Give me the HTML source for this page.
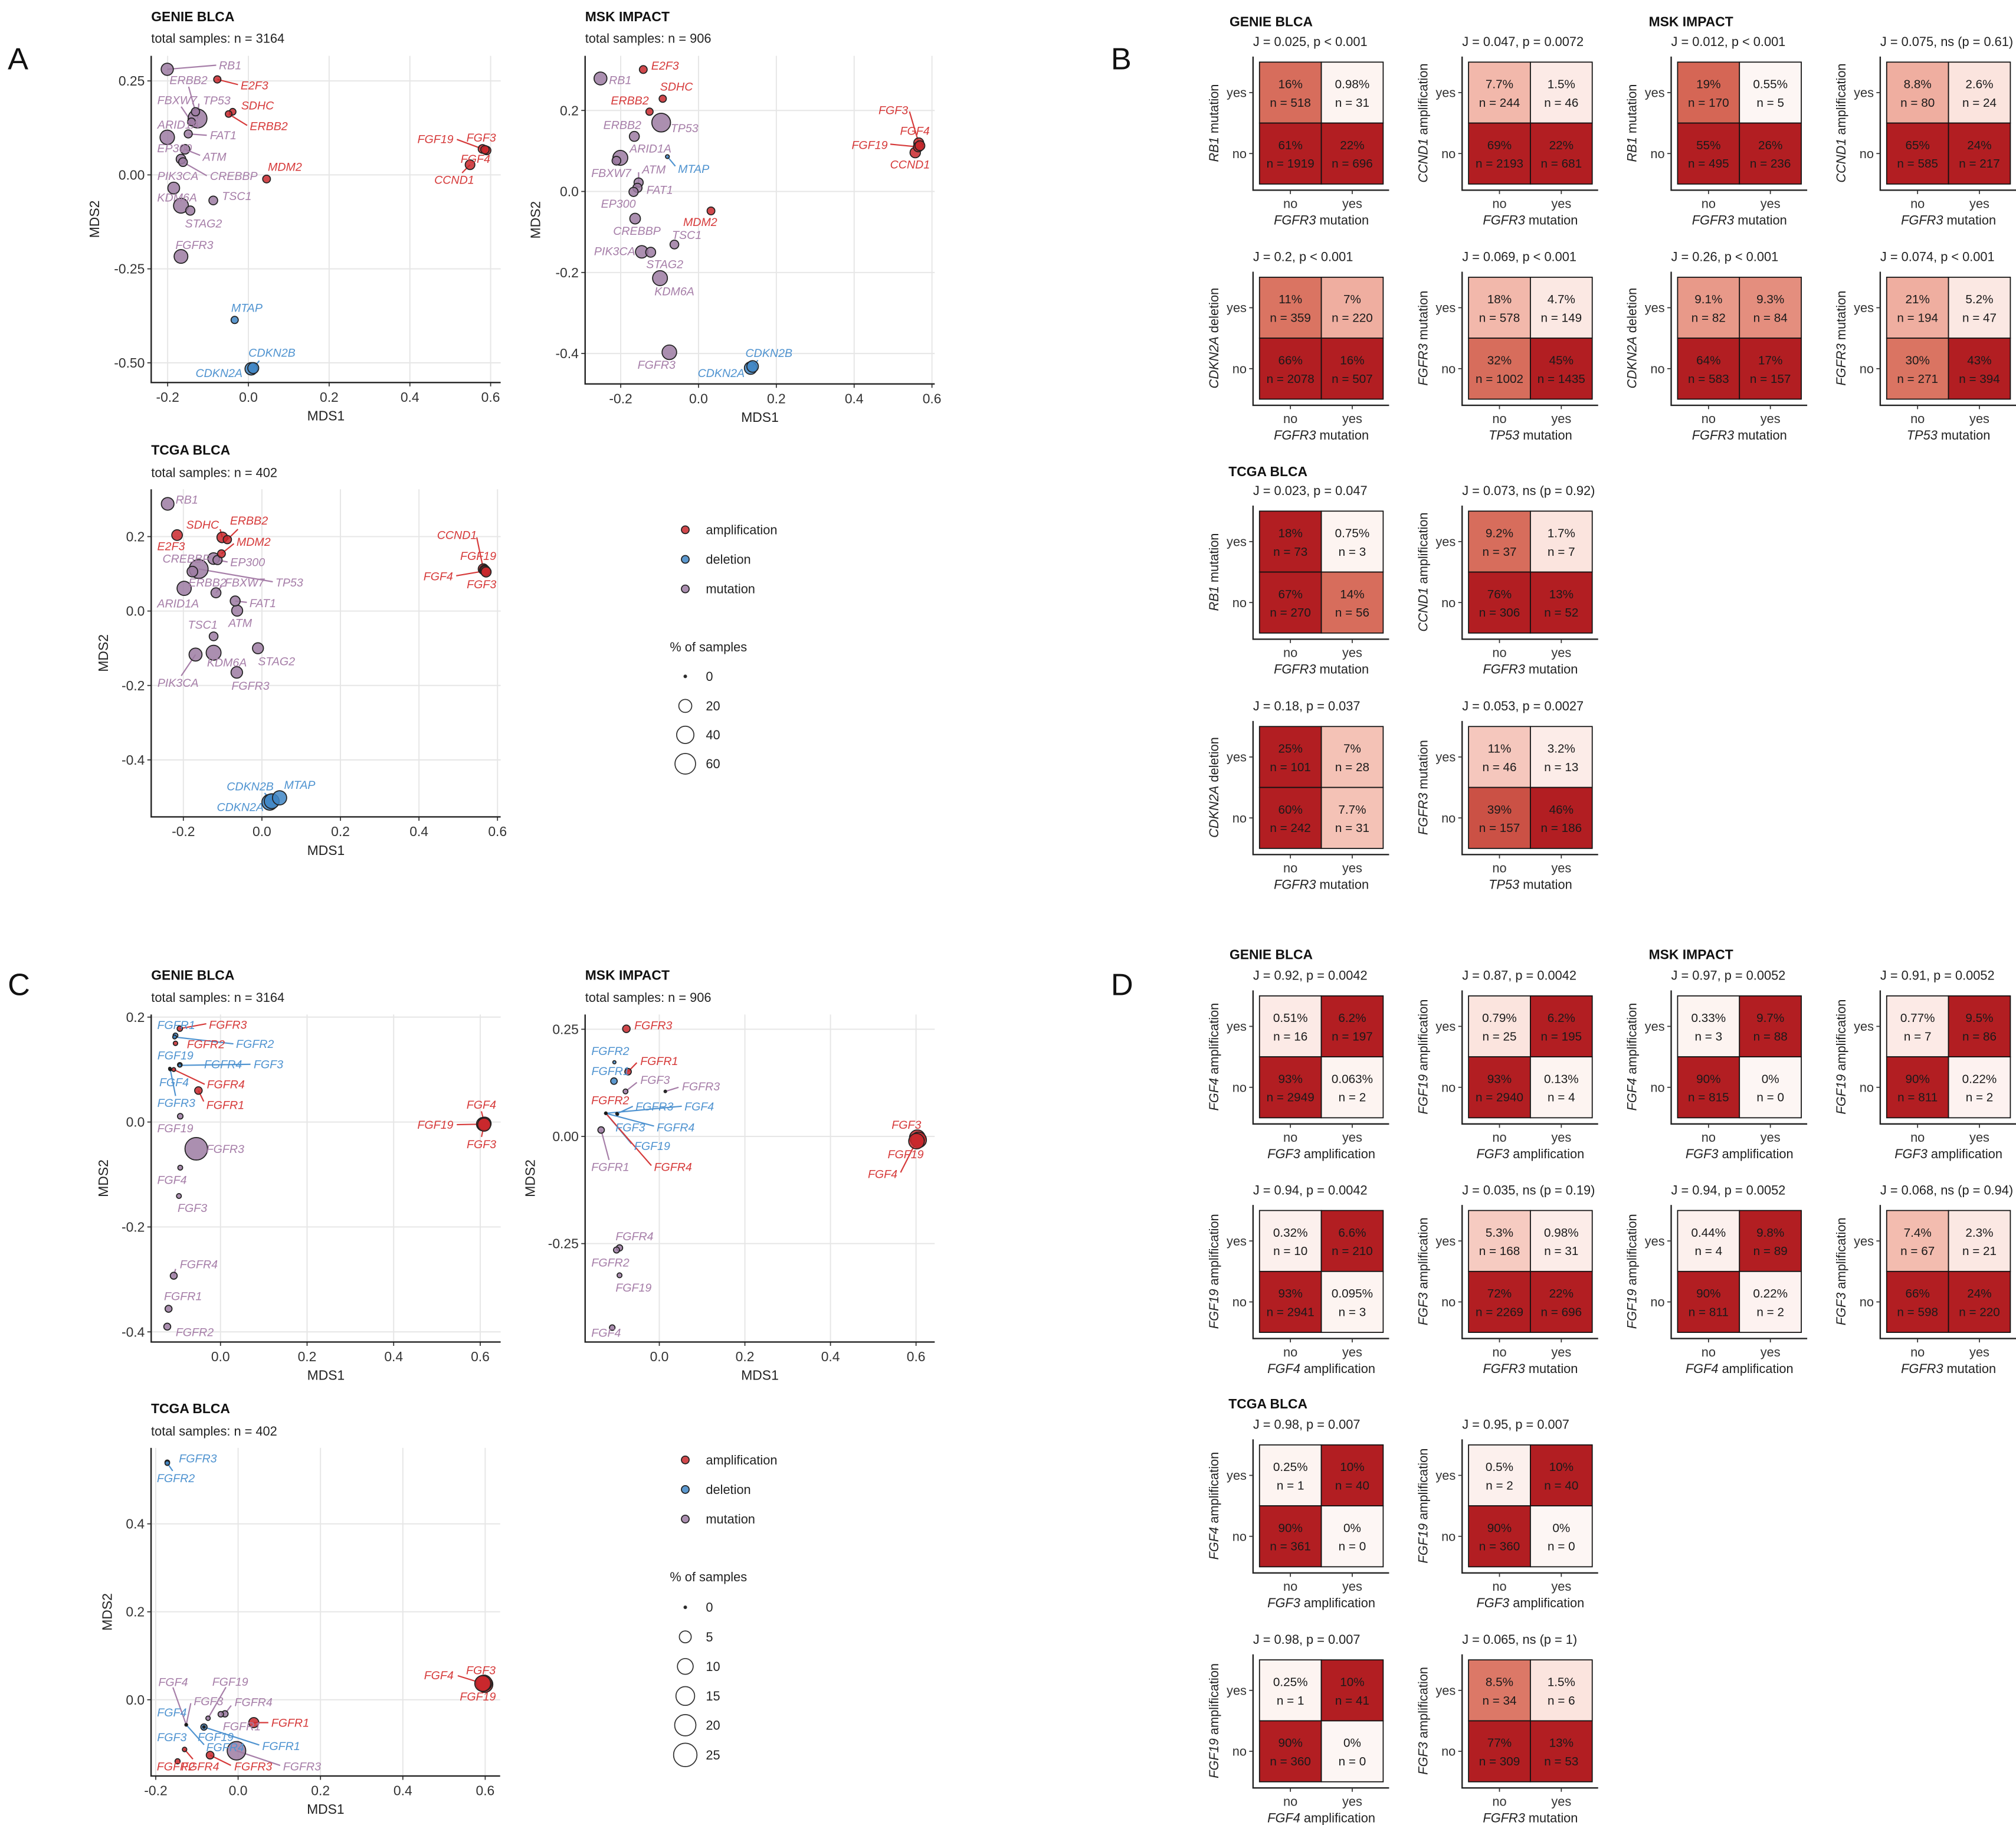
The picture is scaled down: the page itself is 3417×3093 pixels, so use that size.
<!DOCTYPE html>
<html><head><meta charset="utf-8">
<style>
html,body{margin:0;padding:0;background:#fff}
svg{display:block}
text{font-family:"Liberation Sans",Arial,sans-serif}
</style></head>
<body>
<svg id="fig" xmlns="http://www.w3.org/2000/svg" width="3417" height="3093" viewBox="0 0 1568 1419.3">
<rect x="0" y="0" width="1568" height="1419.3" fill="#fff"/>
<text x="6" y="54" font-size="24" fill="#111">A</text>
<text x="864" y="54" font-size="24" fill="#111">B</text>
<text x="6" y="774" font-size="24" fill="#111">C</text>
<text x="864" y="774" font-size="24" fill="#111">D</text>
</svg>
<script>
const NS='http://www.w3.org/2000/svg';
const svg=document.getElementById('fig');
function mk(tag,attrs,parent){const e=document.createElementNS(NS,tag);for(const k in attrs)e.setAttribute(k,attrs[k]);(parent||svg).appendChild(e);return e;}

/* ================= SCATTER DATA ================= */
/* A - GENIE */
const gaGenes=['RB1','TP53','ERBB2','FBXW7','ARID1A','FAT1','EP300','ATM','CREBBP','PIK3CA','KDM6A','STAG2','TSC1','FGFR3','E2F3','SDHC','ERBB2','MDM2','FGF19','FGF3','FGF4','CCND1','MTAP','CDKN2B','CDKN2A'];
const gaKinds=['m','m','m','m','m','m','m','m','m','m','m','m','m','m','a','a','a','a','a','a','a','a','d','d','d'];
const gaMds1=[-0.201,-0.126,-0.131,-0.141,-0.201,-0.149,-0.167,-0.157,-0.162,-0.185,-0.167,-0.144,-0.087,-0.167,-0.077,-0.039,-0.049,0.045,0.580,0.586,0.590,0.549,-0.034,0.012,0.007];
const gaMds2=[0.281,0.150,0.168,0.141,0.100,0.109,0.042,0.068,0.034,-0.035,-0.082,-0.095,-0.068,-0.217,0.254,0.168,0.162,-0.011,0.069,0.067,0.065,0.027,-0.386,-0.514,-0.516];
const gaPct=[17,49,6,5,26,5.5,9,9,7,15.7,28,8,7,23,4,3,3,5,6.9,6.3,6.7,9.2,4,13,18];
/* A - MSK */
const maGenes=['RB1','E2F3','SDHC','ERBB2','TP53','ERBB2','ARID1A','FBXW7','MTAP','ATM','FAT1','EP300','CREBBP','MDM2','TSC1','PIK3CA','STAG2','KDM6A','FGFR3','CDKN2B','CDKN2A','FGF3','FGF4','FGF19','CCND1'];
const maKinds=['m','a','a','a','m','m','m','m','d','m','m','m','m','a','m','m','m','m','m','d','d','a','a','a','a'];
const maMds1=[-0.252,-0.142,-0.092,-0.126,-0.096,-0.165,-0.201,-0.211,-0.080,-0.154,-0.157,-0.167,-0.163,0.032,-0.062,-0.146,-0.123,-0.099,-0.075,0.139,0.134,0.566,0.569,0.565,0.557];
const maMds2=[0.279,0.301,0.229,0.197,0.170,0.136,0.083,0.076,0.086,0.022,0.009,-0.001,-0.067,-0.048,-0.131,-0.149,-0.150,-0.214,-0.397,-0.432,-0.436,0.120,0.113,0.110,0.096];
const maPct=[19.5,5,4,4,48,10,28,7,0.3,8,8,8,12,5,7,18,10,28,26.6,15,18.4,10,9.7,9.8,11.4];
/* A - TCGA */
const taGenes=['RB1','E2F3','SDHC','ERBB2','MDM2','CREBBP','EP300','TP53','ERBB2','FBXW7','ARID1A','FAT1','ATM','TSC1','PIK3CA','KDM6A','STAG2','FGFR3','CCND1','FGF19','FGF4','FGF3','MTAP','CDKN2B','CDKN2A'];
const taKinds=['m','a','a','a','a','m','m','m','m','m','m','m','m','m','m','m','m','m','a','a','a','a','d','d','d'];
const taMds1=[-0.240,-0.216,-0.101,-0.088,-0.103,-0.123,-0.113,-0.161,-0.177,-0.117,-0.198,-0.068,-0.063,-0.123,-0.169,-0.123,-0.010,-0.064,0.564,0.567,0.569,0.571,0.045,0.025,0.020];
const taMds2=[0.288,0.204,0.198,0.192,0.154,0.141,0.137,0.113,0.106,0.049,0.061,0.027,0.001,-0.068,-0.117,-0.112,-0.100,-0.165,0.113,0.110,0.108,0.105,-0.502,-0.511,-0.514];
const taPct=[18.75,12,12,6,5,15,8,49,12,10,25,10,13,7,20,28,13,14.75,10.9,10.5,10.2,10.2,25,28,32];
/* C - GENIE */
const gcGenes=['FGFR3','FGFR1','FGFR2','FGFR2','FGF19','FGFR4','FGF3','FGF4','FGFR3','FGFR4','FGFR1','FGF4','FGF19','FGF3','FGF19','FGFR3','FGF4','FGF3','FGFR4','FGFR1','FGFR2'];
const gcKinds=['a','d','a','d','d','d','d','d','d','a','a','a','a','a','m','m','m','m','m','m','m'];
const gcMds1=[-0.094,-0.104,-0.104,-0.106,-0.117,-0.094,-0.094,-0.117,-0.116,-0.108,-0.051,0.610,0.607,0.609,-0.093,-0.056,-0.093,-0.096,-0.108,-0.120,-0.123];
const gcMds2=[0.178,0.165,0.150,0.162,0.102,0.109,0.108,0.101,0.100,0.100,0.060,-0.003,-0.004,-0.005,0.011,-0.051,-0.087,-0.141,-0.293,-0.356,-0.390];
const gcPct=[0.46,0.3,0.2,0.1,0,0.25,0.05,0,0,0.1,1.4,6.3,6.9,6.3,0.5,23,0.3,0.3,1.1,1.1,1.1];
/* C - MSK */
const mcGenes=['FGFR3','FGFR2','FGFR1','FGFR1','FGF3','FGFR3','FGFR2','FGFR3','FGF4','FGF3','FGFR4','FGF19','FGFR4','FGFR1','FGF3','FGF19','FGF4','FGFR4','FGFR2','FGF19','FGF4'];
const mcKinds=['a','d','a','d','m','m','a','d','d','d','d','d','a','m','a','a','a','m','m','m','m'];
const mcMds1=[-0.077,-0.105,-0.073,-0.106,-0.079,0.014,-0.125,-0.099,-0.125,-0.098,-0.125,-0.125,-0.125,-0.136,0.603,0.606,0.601,-0.093,-0.100,-0.093,-0.110];
const mcMds2=[0.251,0.173,0.151,0.129,0.105,0.105,0.054,0.053,0.054,0.052,0.054,0.054,0.054,0.015,-0.003,-0.008,-0.011,-0.260,-0.265,-0.324,-0.446];
const mcPct=[1.4,0.02,0.9,0.9,0.3,0,0,0,0,0,0,0,0,0.9,9.8,9.8,9.7,0.8,0.7,0.3,0.5];
/* C - TCGA */
const tcGenes=['FGFR3','FGFR2','FGF3','FGF4','FGF19','FGFR1','FGFR3','FGFR4','FGFR2','FGFR3','FGFR4','FGF19','FGF3','FGF4','FGFR1','FGF19','FGF4','FGF3','FGFR1','FGFR4'];
const tcKinds=['d','d','a','a','a','a','a','a','a','m','m','m','m','m','m','d','d','d','d','d'];
const tcMds1=[-0.172,-0.172,0.597,0.594,0.599,0.038,-0.068,-0.130,-0.147,-0.004,-0.032,-0.073,-0.126,-0.126,-0.042,-0.083,-0.126,-0.126,-0.083,-0.126];
const tcMds2=[0.540,0.538,0.038,0.037,0.035,-0.052,-0.126,-0.113,-0.140,-0.116,-0.032,-0.042,-0.057,-0.057,-0.033,-0.062,-0.057,-0.057,-0.062,-0.057];
const tcPct=[0.25,0.25,10.2,10.2,10.5,3.2,1.5,0.2,0.4,14.7,0.8,0.2,0,0,0.5,0.8,0,0,0,0];

/* legend breaks */
const legendKinds=['amplification','deletion','mutation'];
const sizeBreaksA=[0,20,40,60];
const sizeBreaksC=[0,5,10,15,20,25];

/* ================= LAYOUT (label offsets in zoom units, not data) ================= */
const gaLab=[[195,-15,185,-15],[20,-67,5,-55],[-98,-117,-26,-92],[-129,-80,-39,-56],[-37,-47],[82,5,70,5],[-90,-40],[67,27,57,22],[102,50,90,50],[-62,-45],[-90,-30],[-20,47],[33,-17],[-21,-42],[88,21,78,19],[32,-23],[80,44,70,42],[5,-45],[-110,-37,-97,-35,'end'],[-70,-45],[-98,30],[-135,55,-30,30],[-13,-45],[-18,-57,23,-27],[-33,15,null,null,'end']];
const maLab=[[32,5],[30,-15],[-10,-45],[-146,-42],[36,20],[-117,-42],[35,-35],[-95,45],[40,45,30,35],[13,-48,0,-38],[34,7],[-123,43],[-83,45],[-105,40],[-9,-36],[-180,-3],[-17,43],[-21,48],[-120,45],[-27,-50,20,-23],[-200,18],[-152,-120,-35,-115],[-75,-55],[-116,-8,-106,-10,'end'],[-95,43]];
const taLab=[[30,-16],[-75,40],[-136,-47,-8,-30],[10,-70,40,-38],[57,-44,47,-37],[-193,0],[48,7,38,7],[290,49,280,47],[-15,40],[33,-38,20,-23],[-102,55],[54,7,44,5],[-33,45],[-97,-43],[-144,103,-54,78],[-25,35],[0,47],[-20,48],[-175,-125,-25,-116],[-92,-52],[-122,20,-110,18,'end'],[-73,45],[17,-48],[-170,-55,-27,-30],[-200,17]];
const gcLab=[[110,-15,100,-18],[-69,-39],[43,3],[232,25,222,25],[-47,-48],[92,-2],[279,-4,267,-4],[-40,48],[-49,122,20,97],[125,54,117,54],[30,53,20,40],[-68,-70,-12,-45],[-113,2,-100,2,'end'],[-66,72,-10,45],[-87,44],[38,0],[-87,45],[-5,43],[23,-42,7,-25],[-17,-47],[32,20]];
const mcLab=[[30,-13],[-87,-42],[46,-40,33,-33],[-85,-37],[56,-43,43,-33],[63,-19,50,-15],[-55,-48],[70,-27,60,-27],[297,-25,287,-26],[-7,48],[192,52,182,47],[107,120,97,112],[182,197,172,192],[-37,135,30,110],[-97,-48],[-117,53],[-72,120,-60,115,'end'],[-15,-43],[-95,45],[-15,45],[-79,18]];
const tcLab=[[28,-14],[-25,54,13,28],[-43,-47],[-70,-30,-60,-28,'end'],[-60,43],[42,0,35,0],[58,40,50,37],[-8,61,20,35],[-50,18],[112,56,105,53],[23,-43,15,-30],[10,-132,43,-112],[18,-86,11,-78],[-67,-155,-32,-135],[5,43],[-15,35],[-70,-45],[-70,44],[140,68,133,65],[48,80,43,72]];

const fillCol={a:'#c9282d',d:'#3f86c6',m:'#9c7ba2'};
const labCol={a:'#d63a3a',d:'#4f93d0',m:'#a67ea8'};
function sizeA(p){return p<=0?1:1+0.904*Math.sqrt(p);}
function sizeC(p){return p<=0?1:1+1.62*Math.sqrt(p);}

const panels=[
 {id:'genie-a',title:'GENIE BLCA',sub:'total samples: n = 3164',left:117.6,right:389.4,top:43.4,bottom:297.5,x0:193.2,xs:314,y0:136,ys:292.3,xt:[-0.2,0,0.2,0.4,0.6],xl:['-0.2','0.0','0.2','0.4','0.6'],yt:[0.25,0,-0.25,-0.5],yl:['0.25','0.00','-0.25','-0.50'],ty:16.5,sy:33.2,ytx:77,zf:[4.857,4.722],d:[gaGenes,gaKinds,gaMds1,gaMds2,gaPct,gaLab],size:sizeA},
 {id:'msk-a',title:'MSK IMPACT',sub:'total samples: n = 906',left:455.1,right:727,top:43.4,bottom:298.6,x0:543.3,xs:302.6,y0:148.9,ys:315,xt:[-0.2,0,0.2,0.4,0.6],xl:['-0.2','0.0','0.2','0.4','0.6'],yt:[0.2,0,-0.2,-0.4],yl:['0.2','0.0','-0.2','-0.4'],ty:16.5,sy:33.2,ytx:420,zf:[4.857,4.722],d:[maGenes,maKinds,maMds1,maMds2,maPct,maLab],size:sizeA},
 {id:'tcga-a',title:'TCGA BLCA',sub:'total samples: n = 402',left:117.6,right:389.4,top:380.5,bottom:635.3,x0:203.7,xs:305.4,y0:475.2,ys:289.4,xt:[-0.2,0,0.2,0.4,0.6],xl:['-0.2','0.0','0.2','0.4','0.6'],yt:[0.2,0,-0.2,-0.4],yl:['0.2','0.0','-0.2','-0.4'],ty:353.5,sy:371,ytx:84,zf:[4.857,4.722],d:[taGenes,taKinds,taMds1,taMds2,taPct,taLab],size:sizeA},
 {id:'genie-c',title:'GENIE BLCA',sub:'total samples: n = 3164',left:117.6,right:389.4,top:789,bottom:1043.7,x0:171.5,xs:336.7,y0:872.6,ys:408,xt:[0,0.2,0.4,0.6],xl:['0.0','0.2','0.4','0.6'],yt:[0.2,0,-0.2,-0.4],yl:['0.2','0.0','-0.2','-0.4'],ty:762,sy:779.2,ytx:84,zf:[4.857,4.722],d:[gcGenes,gcKinds,gcMds1,gcMds2,gcPct,gcLab],size:sizeC},
 {id:'msk-c',title:'MSK IMPACT',sub:'total samples: n = 906',left:455.1,right:727,top:789,bottom:1043.7,x0:512.8,xs:332.8,y0:883.8,ys:333.4,xt:[0,0.2,0.4,0.6],xl:['0.0','0.2','0.4','0.6'],yt:[0.25,0,-0.25],yl:['0.25','0.00','-0.25'],ty:762,sy:779.2,ytx:416,zf:[4.857,4.722],d:[mcGenes,mcKinds,mcMds1,mcMds2,mcPct,mcLab],size:sizeC},
 {id:'tcga-c',title:'TCGA BLCA',sub:'total samples: n = 402',left:117.5,right:389,top:1126,bottom:1381.2,x0:185.2,xs:320.3,y0:1321.9,ys:342,xt:[-0.2,0,0.2,0.4,0.6],xl:['-0.2','0.0','0.2','0.4','0.6'],yt:[0.4,0.2,0],yl:['0.4','0.2','0.0'],ty:1099,sy:1116.5,ytx:87,zf:[3.09,4.638],d:[tcGenes,tcKinds,tcMds1,tcMds2,tcPct,tcLab],size:sizeC}
];

function drawScatter(P){
 const g=mk('g',{});
 
 
 const sx=v=>P.x0+P.xs*v, sy=v=>P.y0-P.ys*v;
 const t1=mk('text',{x:P.left,y:P.ty,'font-size':10.5,'font-weight':'bold',fill:'#111'},g);t1.textContent=P.title;
 
 
 const t2=mk('text',{x:P.left,y:P.sy,'font-size':10,fill:'#222'},g);t2.textContent=P.sub;
 
 
 P.xt.forEach((t,i)=>{
  const l=mk('line',{x1:sx(t),x2:sx(t),y1:P.top,y2:P.bottom,stroke:'#e6e6e6','stroke-width':0.9},g);
  
  
  const tk=mk('line',{x1:sx(t),x2:sx(t),y1:P.bottom,y2:P.bottom+3,stroke:'#333','stroke-width':0.8},g);
  
  
  const tl=mk('text',{x:sx(t),y:P.bottom+15,'font-size':10.5,fill:'#333','text-anchor':'middle'},g);tl.textContent=P.xl[i];
  
  
 });
 P.yt.forEach((t,i)=>{
  const l=mk('line',{x1:P.left,x2:P.right,y1:sy(t),y2:sy(t),stroke:'#e6e6e6','stroke-width':0.9},g);
  
  
  const tk=mk('line',{x1:P.left-3,x2:P.left,y1:sy(t),y2:sy(t),stroke:'#333','stroke-width':0.8},g);
  
  
  const tl=mk('text',{x:P.left-5,y:sy(t)+3.7,'font-size':10.5,fill:'#333','text-anchor':'end'},g);tl.textContent=P.yl[i];
  
  
 });
 const ax=mk('path',{d:`M${P.left},${P.top} V${P.bottom} H${P.right}`,fill:'none',stroke:'#222','stroke-width':1.1},g);
 
 
 const xt=mk('text',{x:(P.left+P.right)/2,y:P.bottom+29.5,'font-size':10.5,fill:'#222','text-anchor':'middle'},g);xt.textContent='MDS1';
 
 
 const ym=(P.top+P.bottom)/2;
 const yt=mk('text',{x:P.ytx,y:ym,'font-size':10.5,fill:'#222','text-anchor':'middle',transform:`rotate(-90 ${P.ytx} ${ym})`},g);yt.textContent='MDS2';
 
 
 const [genes,kinds,xs,ys,pct,labs]=P.d;
 // segments
 genes.forEach((gname,i)=>{
  const L=labs[i]; if(L.length<4||L[2]===null) return;
  const px=sx(xs[i]),py=sy(ys[i]);
  const s=mk('line',{x1:px,y1:py,x2:px+L[2]/P.zf[0],y2:py+L[3]/P.zf[1],stroke:labCol[kinds[i]],'stroke-width':1},g);
  
  
 });
 // points
 const order=genes.map((_,i)=>i).sort((a,b)=>pct[b]-pct[a]);
 order.forEach(i=>{
  const r=P.size(pct[i]);
  const c=mk('circle',{cx:sx(xs[i]),cy:sy(ys[i]),r:r,fill:pct[i]<=0?'#111':fillCol[kinds[i]],'fill-opacity':0.85,stroke:'#222','stroke-width':0.8},g);
  
  
 });
 // labels
 genes.forEach((gname,i)=>{
  const L=labs[i];
  const px=sx(xs[i]),py=sy(ys[i]);
  const anc=L[4]==='end'?'end':'start';
  const t=mk('text',{x:px+L[0]/P.zf[0],y:py+L[1]/P.zf[1]+3.2,'font-size':9,'font-style':'italic',fill:labCol[kinds[i]],'text-anchor':anc},g);
  t.textContent=gname;
  
  
 });
}
panels.forEach(drawScatter);

function drawLegend(top,breaks,sizeFn,pos){
 const g=mk('g',{});
 
 
 const kk=['a','d','m'];
 legendKinds.forEach((k,i)=>{
  const c=mk('circle',{cx:533,cy:top+i*23,r:3,fill:fillCol[kk[i]],'fill-opacity':0.85,stroke:'#222','stroke-width':0.8},g);
  
  
  const t=mk('text',{x:549,y:top+i*23+3.5,'font-size':10,fill:'#222'},g);t.textContent=k;
  
  
 });
 const h=mk('text',{x:521,y:top+91+3.5,'font-size':10,fill:'#222'},g);h.textContent='% of samples';
 
 
 breaks.forEach((b,i)=>{
  const y=pos[i];
  const c=mk('circle',{cx:533,cy:y,r:sizeFn(b),fill:b<=0?'#222':'none',stroke:'#333','stroke-width':0.8},g);
  
  
  const t=mk('text',{x:549,y:y+3.5,'font-size':10,fill:'#222'},g);t.textContent=String(b);
  
  
 });
}
drawLegend(412,sizeBreaksA,sizeA,[526,549,571.5,594]);
drawLegend(1135.4,sizeBreaksC,sizeC,[1250,1273,1296,1319,1341.7,1364.8]);

/* ================= HEATMAP DATA ================= */
const hmJ=['J = 0.025, p < 0.001','J = 0.047, p = 0.0072','J = 0.012, p < 0.001','J = 0.075, ns (p = 0.61)',
 'J = 0.2, p < 0.001','J = 0.069, p < 0.001','J = 0.26, p < 0.001','J = 0.074, p < 0.001',
 'J = 0.023, p = 0.047','J = 0.073, ns (p = 0.92)','J = 0.18, p = 0.037','J = 0.053, p = 0.0027',
 'J = 0.92, p = 0.0042','J = 0.87, p = 0.0042','J = 0.97, p = 0.0052','J = 0.91, p = 0.0052',
 'J = 0.94, p = 0.0042','J = 0.035, ns (p = 0.19)','J = 0.94, p = 0.0052','J = 0.068, ns (p = 0.94)',
 'J = 0.98, p = 0.007','J = 0.95, p = 0.007','J = 0.98, p = 0.007','J = 0.065, ns (p = 1)'];
const hmYGene=['RB1','CCND1','RB1','CCND1','CDKN2A','FGFR3','CDKN2A','FGFR3','RB1','CCND1','CDKN2A','FGFR3','FGF4','FGF19','FGF4','FGF19','FGF19','FGF3','FGF19','FGF3','FGF4','FGF19','FGF19','FGF3'];
const hmYType=['mutation','amplification','mutation','amplification','deletion','mutation','deletion','mutation','mutation','amplification','deletion','mutation','amplification','amplification','amplification','amplification','amplification','amplification','amplification','amplification','amplification','amplification','amplification','amplification'];
const hmXGene=['FGFR3','FGFR3','FGFR3','FGFR3','FGFR3','TP53','FGFR3','TP53','FGFR3','FGFR3','FGFR3','TP53','FGF3','FGF3','FGF3','FGF3','FGF4','FGFR3','FGF4','FGFR3','FGF3','FGF3','FGF4','FGFR3'];
const hmXType=['mutation','mutation','mutation','mutation','mutation','mutation','mutation','mutation','mutation','mutation','mutation','mutation','amplification','amplification','amplification','amplification','amplification','mutation','amplification','mutation','amplification','amplification','amplification','mutation'];
/* cell order: [y=yes/x=no, y=yes/x=yes, y=no/x=no, y=no/x=yes] */
const hmPct=[[16,0.98,61,22],[7.7,1.5,69,22],[19,0.55,55,26],[8.8,2.6,65,24],
 [11,7,66,16],[18,4.7,32,45],[9.1,9.3,64,17],[21,5.2,30,43],
 [18,0.75,67,14],[9.2,1.7,76,13],[25,7,60,7.7],[11,3.2,39,46],
 [0.51,6.2,93,0.063],[0.79,6.2,93,0.13],[0.33,9.7,90,0],[0.77,9.5,90,0.22],
 [0.32,6.6,93,0.095],[5.3,0.98,72,22],[0.44,9.8,90,0.22],[7.4,2.3,66,24],
 [0.25,10,90,0],[0.5,10,90,0],[0.25,10,90,0],[8.5,1.5,77,13]];
const hmN=[[518,31,1919,696],[244,46,2193,681],[170,5,495,236],[80,24,585,217],
 [359,220,2078,507],[578,149,1002,1435],[82,84,583,157],[194,47,271,394],
 [73,3,270,56],[37,7,306,52],[101,28,242,31],[46,13,157,186],
 [16,197,2949,2],[25,195,2940,4],[3,88,815,0],[7,86,811,2],
 [10,210,2941,3],[168,31,2269,696],[4,89,811,2],[67,21,598,220],
 [1,40,361,0],[2,40,360,0],[1,41,360,0],[34,6,309,53]];
const hmShade=[[0.75,0.02,1,1],[0.4,0.1,1,1],[0.78,0,1,1],[0.45,0.15,1,1],
 [0.72,0.45,1,1],[0.4,0.12,0.75,1],[0.55,0.6,1,1],[0.45,0.12,0.72,1],
 [1,0.02,1,0.75],[0.75,0.15,1,1],[1,0.35,1,0.35],[0.32,0.08,0.85,1],
 [0.1,1,1,0.02],[0.15,1,1,0.02],[0.02,1,1,0],[0.1,1,1,0.03],
 [0.05,1,1,0.02],[0.3,0.08,1,1],[0.05,1,1,0.03],[0.38,0.12,1,1],
 [0.02,1,1,0],[0.05,1,1,0],[0.02,1,1,0],[0.7,0.15,1,1]];

const stops=[[0,[253,246,244]],[0.2,[250,222,215]],[0.4,[242,184,171]],[0.6,[228,142,126]],[0.8,[211,98,80]],[1,[178,30,34]]];
function shadeColor(s){
 for(let i=1;i<stops.length;i++){ if(s<=stops[i][0]){const a=stops[i-1],b=stops[i];const t=(s-a[0])/(b[0]-a[0]);
  const c=a[1].map((v,k)=>Math.round(v+(b[1][k]-v)*t));return `rgb(${c[0]},${c[1]},${c[2]})`;}}
 return 'rgb(178,30,34)';
}

const rowsB=[48.3,215.6,397.5,565], rowsD=[774.5,941.4,1123.7,1290.9];
const CW=48.1, CH=47.4;

function addTitle(g,x,y,gene,type,rot){
 const t=mk('text',{x:x,y:y,'font-size':10,fill:'#222','text-anchor':'middle'},g);
 if(rot) t.setAttribute('transform',`rotate(-90 ${x} ${y})`);
 const a=mk('tspan',{'font-style':'italic'},t);a.textContent=gene;
 const b=mk('tspan',{},t);b.textContent=' '+type;
 return t;
}

hmJ.forEach((J,i)=>{
 const sec=i<12?'b':'d'; const k=i%12;
 let row,col; if(k<8){row=Math.floor(k/4);col=k%4;}else{row=2+Math.floor((k-8)/2);col=(k-8)%2;}
 const x0=979.6+col*162.6, y0=(sec==='b'?rowsB:rowsD)[row];
 const g=mk('g',{});
 
 
 const jt=mk('text',{x:x0-5,y:y0-12.5,'font-size':10,fill:'#222'},g);jt.textContent=J;
 
 
 for(let c=0;c<4;c++){
  const cx=x0+(c%2)*CW, cy=y0+Math.floor(c/2)*CH;
  const r=mk('rect',{x:cx,y:cy,width:CW,height:CH,fill:shadeColor(hmShade[i][c]),stroke:'#111','stroke-width':0.8},g);
  
  
  const t1=mk('text',{x:cx+CW/2,y:cy+CH/2-3.4,'font-size':9.5,fill:'#1a1a1a','text-anchor':'middle'},g);t1.textContent=String(hmPct[i][c])+'%';
  
  
  const t2=mk('text',{x:cx+CW/2,y:cy+CH/2+11,'font-size':9.5,fill:'#1a1a1a','text-anchor':'middle'},g);t2.textContent='n = '+hmN[i][c];
  
  
 }
 const ax=mk('path',{d:`M${x0-5},${y0-4.3} V${y0+2*CH+4.8} H${x0+2*CW+4.6}`,fill:'none',stroke:'#222','stroke-width':1.1},g);
 
 
 ['yes','no'].forEach((lab,j)=>{
  const yy=y0+CH/2+j*CH;
  const tk=mk('line',{x1:x0-8,x2:x0-5,y1:yy,y2:yy,stroke:'#333','stroke-width':0.8},g);
  
  
  const t=mk('text',{x:x0-10,y:yy+3.5,'font-size':10,fill:'#333','text-anchor':'end'},g);t.textContent=lab;
  
  
 });
 ['no','yes'].forEach((lab,j)=>{
  const xx=x0+CW/2+j*CW, yb=y0+2*CH+4.8;
  const tk=mk('line',{x1:xx,x2:xx,y1:yb,y2:yb+3,stroke:'#333','stroke-width':0.8},g);
  
  
  const t=mk('text',{x:xx,y:y0+113.5,'font-size':10,fill:'#333','text-anchor':'middle'},g);t.textContent=lab;
  
  
 });
 const xtt=addTitle(g,x0+CW,y0+126.3,hmXGene[i],hmXType[i],false);
 
 
 const ytt=addTitle(g,x0-32,y0+CH,hmYGene[i],hmYType[i],true);
 
 
});

const secTitles=[['GENIE BLCA',956.3,20.3],['MSK IMPACT',1282.4,20.3],['TCGA BLCA',955.5,370.2],['GENIE BLCA',956.3,746],['MSK IMPACT',1282.4,746],['TCGA BLCA',955.5,1095.4]];
secTitles.forEach(s=>{
 const t=mk('text',{x:s[1],y:s[2],'font-size':10.5,'font-weight':'bold',fill:'#111'});t.textContent=s[0];
 
 
});
</script>
</body></html>
